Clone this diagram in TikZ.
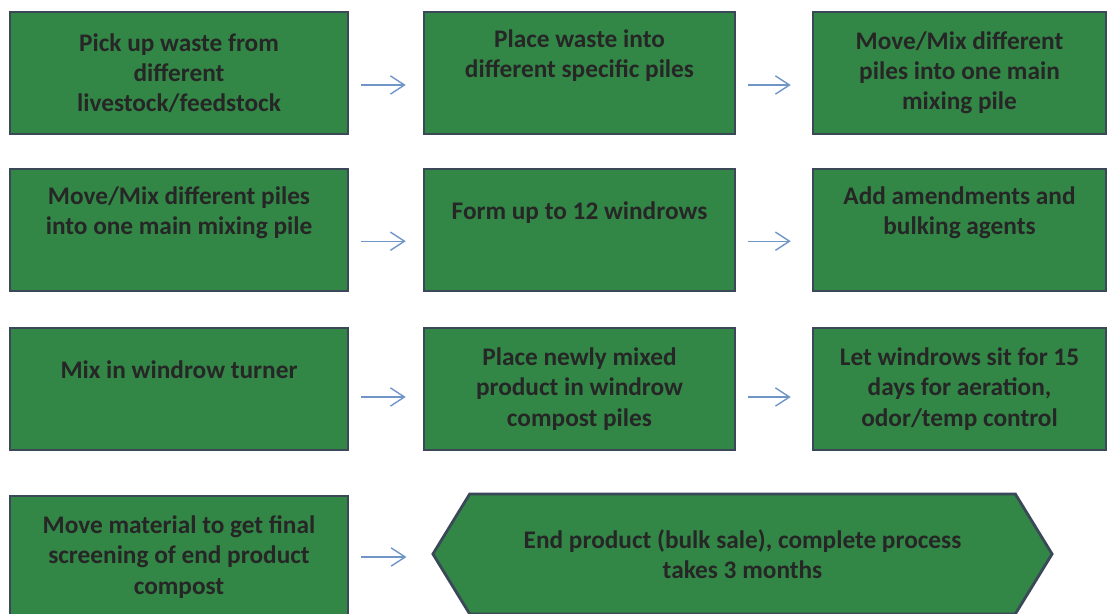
\documentclass[tikz,border=0pt]{standalone}
\usepackage{fontspec}
\setmainfont{Carlito}
\usetikzlibrary{shapes.symbols,arrows.meta}

\definecolor{boxgreen}{RGB}{50,135,70}
\definecolor{boxedge}{RGB}{58,72,88}
\definecolor{arrowblue}{RGB}{112,150,200}

\tikzset{
  stage/.style={draw=boxedge, line width=2pt, fill=boxgreen, text=black!85,
    font=\bfseries\fontsize{18}{21.5}\selectfont, align=center,
    minimum height=3.05cm, inner sep=2pt},
  left col/.style={stage, minimum width=8.45cm},
  mid col/.style={stage, minimum width=7.775cm},
  right col/.style={stage, minimum width=7.325cm},
  flow/.style={arrowblue, line width=1pt, -{Straight Barb[length=10pt,width=13pt]},
    shorten <=0.3cm, shorten >=0.42cm},
}

\begin{document}
\begin{tikzpicture}[x=0.025cm, y=-0.025cm]
\useasboundingbox (0,0) rectangle (1112,613);

% Row 1
\node[left col]  (pick)    at (179,73)   {Pick up waste from\\different\\livestock/feedstock};
\node[mid col]   (place)   at (579.5,73) {Place waste into\\different specific piles\\\strut};
\node[right col] (mixpile) at (959.5,73) {Move/Mix different\\piles into one main\\mixing pile};

% Row 2
\node[left col]  (remix)    at (179,230)   {Move/Mix different piles\\into one main mixing pile\\\strut};
\node[mid col]   (windrows) at (579.5,230) {Form up to 12 windrows\\\strut};
\node[right col] (amend)    at (959.5,230) {Add amendments and\\bulking agents\\\strut};

% Row 3
\node[left col]  (turner)   at (179,389)   {Mix in windrow turner\\\strut};
\node[mid col]   (newpiles) at (579.5,389) {Place newly mixed\\product in windrow\\compost piles};
\node[right col] (sit)      at (959.5,389) {Let windrows sit for 15\\days for aeration,\\odor/temp control};

% Row 4
\node[left col]  (screen)  at (179,557) {Move material to get final\\screening of end product\\compost};
\node[stage, shape=signal, signal to=west and east, signal pointer angle=117,
  minimum width=15.475cm, minimum height=3cm] (endprod) at (742.5,554)
  {End product (bulk sale), complete process\\takes 3 months};

% Arrows
\draw[flow] ([yshift=-0.3cm]pick.east) -- ([yshift=-0.3cm]place.west);
\draw[flow, shorten >=0.52cm] ([yshift=-0.3cm]place.east) -- ([yshift=-0.3cm]mixpile.west);
\draw[flow] ([yshift=-0.28cm]remix.east) -- ([yshift=-0.28cm]windrows.west);
\draw[flow, shorten >=0.52cm] ([yshift=-0.28cm]windrows.east) -- ([yshift=-0.28cm]amend.west);
\draw[flow] ([yshift=-0.2cm]turner.east) -- ([yshift=-0.2cm]newpiles.west);
\draw[flow, shorten >=0.52cm] ([yshift=-0.2cm]newpiles.east) -- ([yshift=-0.2cm]sit.west);
\draw[flow, shorten >=0.62cm] (screen.east) -- (screen.east -| endprod.west);

\end{tikzpicture}
\end{document}
